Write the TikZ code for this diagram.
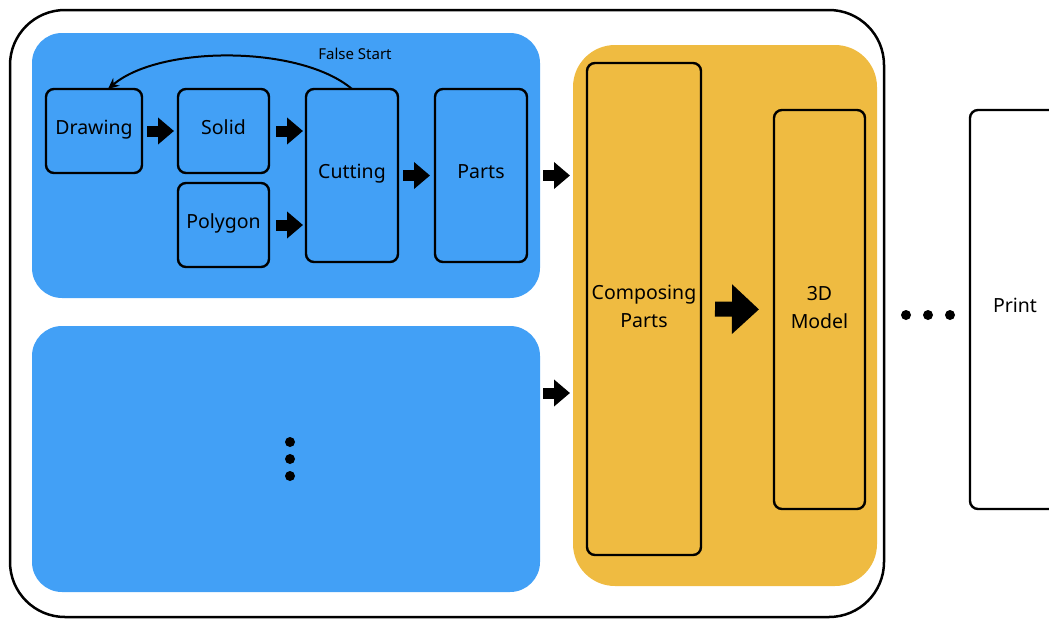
\documentclass[tikz,border=0pt]{standalone}
\usepackage{fontspec}
\setmainfont{Noto Sans}
\usetikzlibrary{arrows.meta,calc}
\definecolor{bblue}{RGB}{66,160,246}
\definecolor{borange}{RGB}{239,187,65}
\begin{document}
\begin{tikzpicture}[x=1pt,y=-1pt,
  every node/.style={inner sep=0pt, outer sep=0pt},
  box/.style={draw, line width=2.4pt, rounded corners=8pt, anchor=north west, align=center,
    font=\fontsize{19.5}{28}\selectfont, text depth=5pt},
  onebox/.style={box, text height=14pt, text depth=8pt},
  panel/.style={rounded corners=30pt, anchor=north west},
  fat/.style={line width=11pt, -{Triangle[length=16pt,width=26pt]}},
  bigfat/.style={line width=15pt, -{Triangle[length=27pt,width=48pt]}},
  dot/.style={circle, fill=black, minimum size=10pt}
]
\useasboundingbox (0,0) rectangle (1049,619);
% outer frame
\node[draw, line width=2.5pt, rounded corners=55pt, anchor=north west,
      minimum width=874pt, minimum height=607pt] (outer) at (10,10) {};
% panels
\node[panel, fill=bblue, minimum width=508pt, minimum height=265pt] (topblue) at (32,33) {};
\node[panel, fill=bblue, minimum width=508pt, minimum height=266pt] (botblue) at (32,326) {};
\node[panel, fill=borange, rounded corners=42pt, minimum width=304pt, minimum height=541pt] (orange) at (573,45) {};
% boxes
\node[onebox, minimum width=96pt, minimum height=84pt] (drawing) at (46,89) {Drawing};
\node[onebox, minimum width=91pt, minimum height=84pt] (solid) at (178,89) {Solid};
\node[onebox, minimum width=91pt, minimum height=84pt] (polygon) at (178,183) {Polygon};
\node[onebox, minimum width=92pt, minimum height=173pt] (cutting) at (306,89) {Cutting};
\node[onebox, minimum width=92pt, minimum height=173pt] (parts) at (435,89) {Parts};
\node[box, minimum width=114pt, minimum height=492pt] (composing) at (587,63) {Composing\\Parts};
\node[box, minimum width=91pt, minimum height=399pt] (model) at (774,110) {3D\\Model};
\node[onebox, minimum width=90pt, minimum height=399pt] (print) at (970,110) {Print};
% dots
\node[dot] (v1) at (290,442) {};
\node[dot] (v2) at (290,459) {};
\node[dot] (v3) at (290,476) {};
\node[dot] (h1) at (906,315) {};
\node[dot] (h2) at (928,315) {};
\node[dot] (h3) at (950,315) {};
% fat arrows
\draw[fat, shorten <=5pt, shorten >=4pt] (drawing.east) -- (solid.west);
\draw[fat, shorten <=7pt, shorten >=3pt] (solid.east) -- (solid.east -| cutting.west);
\draw[fat, shorten <=7pt, shorten >=3pt] (polygon.east) -- (polygon.east -| cutting.west);
\draw[fat, shorten <=5pt, shorten >=5pt] (cutting.east) -- (parts.west);
\coordinate (tin) at (topblue.east |- parts.east);
\draw[fat, shorten <=3pt, shorten >=3pt] (tin) -- (tin -| orange.west);
\coordinate (bin) at ([yshift=66pt]botblue.east);
\draw[fat, shorten <=3pt, shorten >=3pt] (bin) -- (bin -| orange.west);
\draw[bigfat, shorten <=14pt, shorten >=15pt] (composing.east) -- (model.west);
% false start
\draw[line width=2pt, -{Stealth[length=11pt,width=10pt]}]
  (cutting.north) .. controls (300,45) and (160,45) .. ([xshift=14pt]drawing.north);
\node[font=\fontsize{15}{17}\selectfont] (fs) at (355,54) {False Start};
\end{tikzpicture}
\end{document}
